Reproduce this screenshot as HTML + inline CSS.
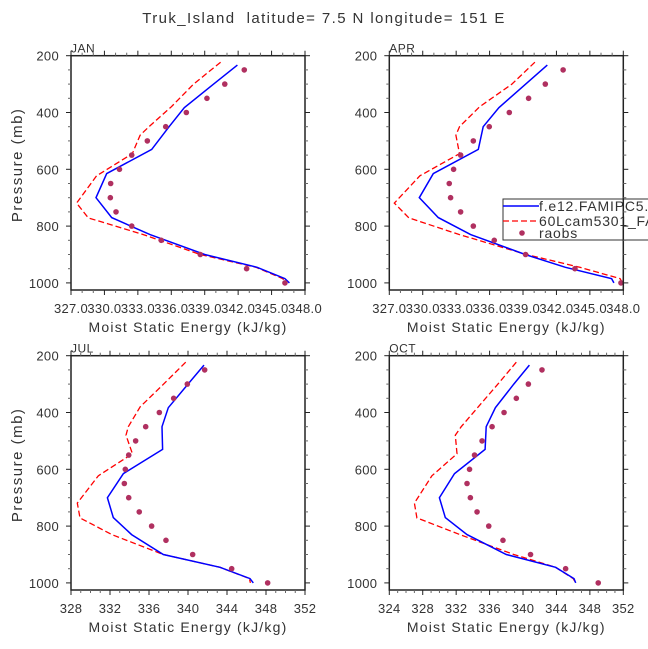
<!DOCTYPE html>
<html><head><meta charset="utf-8">
<style>
html,body{margin:0;padding:0;background:#fff;}
svg{display:block;font-family:"Liberation Sans",sans-serif;}
</style></head>
<body>
<svg id="chart" width="648" height="649" viewBox="0 0 648 649" xmlns="http://www.w3.org/2000/svg">
<text x="324" y="23" text-anchor="middle" font-size="15" letter-spacing="1.4" fill="#333" xml:space="preserve">Truk_Island  latitude= 7.5 N longitude= 151 E</text>
</svg>
<script>
// ---- data ----
const months = ["JAN","APR","JUL","OCT"];
const bluePres = [233,300,383,450,530,615,700,770,830,900,945,985,1000];
const redPres  = [223,300,380,450,480,545,623,719,771,830,900,945,985,1000];
const obsPres  = [250,300,350,400,450,500,550,600,650,700,750,800,850,900,950,1000];
const blueJAN = [341.93,339.8,337.17,335.8,334.24,330.2,329.24,330.65,334.09,339.0,343.7,346.2,346.6];
const redJAN  = [340.43,338.0,336.0,334.0,333.2,332.5,329.3,327.5,328.55,333.5,338.6,343.6,346.0,346.3];
const obsJAN  = [342.55,340.8,339.2,337.35,335.5,333.85,332.45,331.35,330.56,330.53,331.04,332.45,335.1,338.6,342.76,346.2];
const blueAPR = [341.18,339.24,336.84,335.43,334.99,330.95,329.69,331.4,334.3,339.2,342.8,346.95,347.16];
const redAPR  = [340.07,338.0,335.1,333.3,332.98,333.3,329.75,327.45,328.76,333.3,339.3,344.1,347.7,347.94];
const obsAPR  = [342.6,341.0,339.5,337.77,335.97,334.54,333.4,332.77,332.38,332.5,333.4,334.54,336.42,339.23,343.66,347.79];
const blueJUL = [341.64,340.0,337.98,337.33,337.4,333.37,331.73,332.34,334.22,337.47,343.28,346.36,346.7];
const redJUL  = [339.76,337.5,335.1,333.88,333.64,334.3,330.8,328.65,328.92,332.2,337.47,343.28,346.3,346.4];
const obsJUL  = [341.71,339.93,338.53,337.06,335.66,334.63,333.92,333.57,333.47,333.92,335.0,336.27,337.74,340.48,344.48,348.17];
const blueOCT = [340.76,338.9,336.7,335.6,335.46,331.8,330.0,330.7,333.3,338.0,343.9,346.1,346.3];
const redOCT  = [339.2,337.0,334.65,332.6,331.9,332.1,329.1,327.0,327.3,332.45,338.9,343.9,346.0,346.3];
const obsOCT  = [342.27,340.64,339.2,337.73,336.3,335.1,334.2,333.6,333.3,333.7,334.5,335.9,337.6,340.9,345.1,349.0];
const xMinJA = 327, xMaxJA = 348, xStepJA = 3;
const xMinJUL = 328, xMaxJUL = 352, xStepJUL = 4;
const xMinOCT = 324, xMaxOCT = 352, xStepOCT = 4;
const yTicks = [200,400,600,800,1000];
const pTop = 200, pBot = 1025;

const NS = "http://www.w3.org/2000/svg";
const svg = document.getElementById("chart");
function mk(tag, attrs, parent){
  const e = document.createElementNS(NS, tag);
  for (const k in attrs) e.setAttribute(k, attrs[k]);
  (parent||svg).appendChild(e);
  return e;
}

const panels = [
  {m:"JAN", L:71, T:55.7, xmin:xMinJA, xmax:xMaxJA, step:xStepJA, minor:1, dec:true, blue:blueJAN, red:redJAN, obs:obsJAN},
  {m:"APR", L:389.3, T:55.7, xmin:xMinJA, xmax:xMaxJA, step:xStepJA, minor:1, dec:true, blue:blueAPR, red:redAPR, obs:obsAPR},
  {m:"JUL", L:71, T:355.7, xmin:xMinJUL, xmax:xMaxJUL, step:xStepJUL, minor:1, dec:false, blue:blueJUL, red:redJUL, obs:obsJUL},
  {m:"OCT", L:389.3, T:355.7, xmin:xMinOCT, xmax:xMaxOCT, step:xStepOCT, minor:1, dec:false, blue:blueOCT, red:redOCT, obs:obsOCT}
];
const W = 234, H = 234.3;

panels.forEach((P, idx) => {
  const g = mk("g", {});
  
  
  const xs = v => P.L + (v - P.xmin) / (P.xmax - P.xmin) * W;
  const ys = p => P.T + (p - pTop) / (pBot - pTop) * H;
  const cid = "clip" + idx;
  const cp = mk("clipPath", {id: cid}, g);
  mk("rect", {x:P.L, y:P.T, width:W, height:H}, cp);

  const ml = mk("text", {x:P.L, y:P.T-3, "font-size":12, "letter-spacing":0.5, fill:"#333"}, g);
  ml.textContent = P.m;
  
  

  const dg = mk("g", {"clip-path":"url(#"+cid+")"}, g);
  const redPts = P.red.map((v,i)=>xs(v).toFixed(1)+","+ys(redPres[i]).toFixed(1)).join(" ");
  const rl = mk("polyline", {points:redPts, fill:"none", stroke:"#ff0000", "stroke-width":1.3, "stroke-dasharray":"6,3"}, dg);
  
  
  const bluePts = P.blue.map((v,i)=>xs(v).toFixed(1)+","+ys(bluePres[i]).toFixed(1)).join(" ");
  const bl = mk("polyline", {points:bluePts, fill:"none", stroke:"#0000ff", "stroke-width":1.5}, dg);
  
  
  P.obs.forEach((v,i) => {
    const c = mk("circle", {cx:xs(v), cy:ys(obsPres[i]), r:2.8, fill:"#b03060"}, g);
    
    
  });

  if (P.m === "APR") {
    const lg = mk("g", {}, g);
    
    
    mk("rect", {x:503, y:199, width:160, height:41, fill:"#fff", stroke:"#333", "stroke-width":1}, lg);
    mk("line", {x1:503, y1:206, x2:539, y2:206, stroke:"#0000ff", "stroke-width":1.5}, lg);
    mk("line", {x1:503, y1:221, x2:539, y2:221, stroke:"#ff0000", "stroke-width":1.3, "stroke-dasharray":"6,3"}, lg);
    mk("circle", {cx:522, cy:233, r:2.8, fill:"#b03060"}, lg);
    const t1 = mk("text", {x:539, y:211, "font-size":14, "letter-spacing":0.8, fill:"#333"}, lg); t1.textContent = "f.e12.FAMIPC5.ne30_ne30";
    
    
    const t2 = mk("text", {x:539, y:226, "font-size":14, "letter-spacing":0.8, fill:"#333"}, lg); t2.textContent = "60Lcam5301_FAMIPC5";
    
    
    const t3 = mk("text", {x:539, y:238, "font-size":14, "letter-spacing":0.8, fill:"#333"}, lg); t3.textContent = "raobs";
    
    
  }

  const fr = mk("rect", {x:P.L, y:P.T, width:W, height:H, fill:"none", stroke:"#222", "stroke-width":1.5}, g);
  
  

  const B = P.T + H;
  for (let v = P.xmin; v <= P.xmax + 1e-6; v += P.minor) {
    const major = ((v - P.xmin) % P.step) === 0;
    const len = major ? 5 : 3;
    const x = xs(v);
    mk("line", {x1:x, y1:B, x2:x, y2:B+len, stroke: major?"#222":"#666", "stroke-width":1}, g);
    mk("line", {x1:x, y1:P.T, x2:x, y2:P.T-len, stroke: major?"#222":"#666", "stroke-width":1}, g);
    if (major) {
      const t = mk("text", {x:x, y:B+23, "text-anchor":"middle", "font-size":13, "letter-spacing":0.3, fill:"#333"}, g);
      t.textContent = P.dec ? v.toFixed(1) : String(v);
      
      
    }
  }
  for (let p = 200; p <= 1000; p += 50) {
    const major = yTicks.includes(p);
    const len = major ? 5 : 3;
    const y = ys(p);
    mk("line", {x1:P.L, y1:y, x2:P.L-len, y2:y, stroke: major?"#222":"#666", "stroke-width":1}, g);
    mk("line", {x1:P.L+W, y1:y, x2:P.L+W+len, y2:y, stroke: major?"#222":"#666", "stroke-width":1}, g);
    if (major) {
      const t = mk("text", {x:P.L-12, y:y+5, "text-anchor":"end", "font-size":13, "letter-spacing":0.3, fill:"#333"}, g);
      t.textContent = String(p);
      
      
    }
  }
  const xt = mk("text", {x:P.L+W/2, y:B+42, "text-anchor":"middle", "font-size":14, "letter-spacing":1.2, fill:"#333"}, g);
  xt.textContent = "Moist Static Energy (kJ/kg)";
  
  
  if (P.L < 100) {
    const cy = P.T + H/2 - 8;
    const yt = mk("text", {x:22, y:cy, "text-anchor":"middle", "font-size":15, "letter-spacing":1.5, fill:"#333", transform:"rotate(-90 22 "+cy+")"}, g);
    yt.textContent = "Pressure (mb)";
    
    
  }
});
</script>
</body></html>
